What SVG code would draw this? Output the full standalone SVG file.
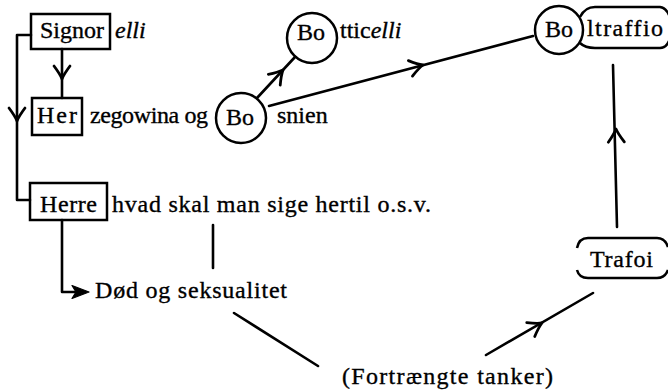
<svg xmlns="http://www.w3.org/2000/svg" width="668" height="391" viewBox="0 0 668 391">
  <style>
    text { font-family: "Liberation Serif", "Times New Roman", serif; font-size: 24px; fill: #000; stroke: #000; stroke-width: 0.35; }
    .it { font-style: italic; }
    .box { fill: none; stroke: #000; stroke-width: 2.5; }
    .line { fill: none; stroke: #000; stroke-width: 2.6; stroke-linecap: round; stroke-linejoin: round; }
    .barb { fill: none; stroke: #000; stroke-width: 2.8; stroke-linecap: round; stroke-linejoin: round; }
  </style>
  <defs>
    <!-- open chevron barb, tip at origin, pointing along +x -->
    <path id="barb" class="barb" d="M-13,-8 Q-5,-2 0,0 Q-5,2 -13,8"/>
  </defs>

  <rect width="668" height="391" fill="#fff"/>

  <!-- connectors -->
  <g id="connectors">
    <!-- bracket from Signor down to Herre -->
    <path class="line" d="M31,35 H17 V200 H30"/>
    <use href="#barb" transform="translate(17,121) rotate(90)"/>
    <!-- Signor to Her -->
    <path class="line" d="M62,49 V98"/>
    <use href="#barb" transform="translate(62,79) rotate(90)"/>
    <!-- Bo to Botticelli -->
    <path class="line" d="M257,98 L295,57"/>
    <use href="#barb" transform="translate(283,70) rotate(-47.9)"/>
    <!-- Bo to Boltraffio -->
    <path class="line" d="M269,106 L533,36"/>
    <use href="#barb" transform="translate(423,65) rotate(-14.8)"/>
    <!-- Trafoi up to Boltraffio -->
    <path class="line" d="M617,227 L613,65"/>
    <use href="#barb" transform="translate(616,129) rotate(-91.4)"/>
    <!-- Herre to Død og seksualitet -->
    <path class="line" d="M62,220 V292 H80"/>
    <path d="M72,285.5 L89,292 L72,298.5 L76,292 Z" fill="#000" stroke="#000" stroke-width="1.2" stroke-linejoin="round"/>
    <!-- stroke under the hvad skal man sige line -->
    <path class="line" d="M213,225 V268"/>
    <!-- Død og seksualitet down to Fortrængte tanker -->
    <path class="line" d="M234,313 L318,366"/>
    <!-- Fortrængte tanker up to Trafoi -->
    <path class="line" d="M486,355 L593,293"/>
    <use href="#barb" transform="translate(542,323) rotate(-30)"/>
  </g>

  <g id="signorelli">
    <rect class="box" x="31" y="14" width="79" height="35"/>
    <text x="40" y="38">Signor</text>
    <text x="115" y="38" class="it">elli</text>
  </g>

  <g id="herzegowina">
    <rect class="box" x="32" y="98" width="50" height="37"/>
    <text x="37" y="123" textLength="40" lengthAdjust="spacing">Her</text>
    <text x="90" y="123" textLength="118" lengthAdjust="spacing">zegowina og</text>
  </g>

  <g id="bosnien">
    <circle class="box" cx="241" cy="118" r="25"/>
    <text x="240" y="125" text-anchor="middle">Bo</text>
    <text x="277" y="123">snien</text>
  </g>

  <g id="botticelli">
    <circle class="box" cx="312" cy="38" r="25"/>
    <text x="311" y="40" text-anchor="middle">Bo</text>
    <text x="340" y="38">ttic<tspan class="it">elli</tspan></text>
  </g>

  <g id="boltraffio">
    <circle class="box" cx="559" cy="30" r="24"/>
    <text x="559" y="37" text-anchor="middle">Bo</text>
    <path class="box" d="M580,17 Q585,7 595,7 L660,7 Q666,8 669,15 M669,41 Q666,48 660,48 L595,48 Q585,48 580,43"/>
    <text x="587" y="36" textLength="76" lengthAdjust="spacing">ltraffio</text>
  </g>

  <g id="herre">
    <rect class="box" x="30" y="183" width="77" height="37"/>
    <text x="40" y="212" textLength="57" lengthAdjust="spacing">Herre</text>
    <text x="112" y="212" textLength="319" lengthAdjust="spacing">hvad skal man sige hertil o.s.v.</text>
  </g>

  <g id="doed">
    <text x="95" y="298" textLength="192" lengthAdjust="spacing">Død og seksualitet</text>
  </g>

  <g id="trafoi">
    <path class="box" d="M577,248 Q579,238 588,238 L657,238 Q665,238 668,247 M577,270 Q579,278 588,278 L657,278 Q665,278 668,270"/>
    <text x="590" y="267" textLength="63" lengthAdjust="spacing">Trafoi</text>
  </g>

  <g id="fortraengte">
    <text x="342" y="384" textLength="211" lengthAdjust="spacing">(Fortrængte tanker)</text>
  </g>
</svg>
